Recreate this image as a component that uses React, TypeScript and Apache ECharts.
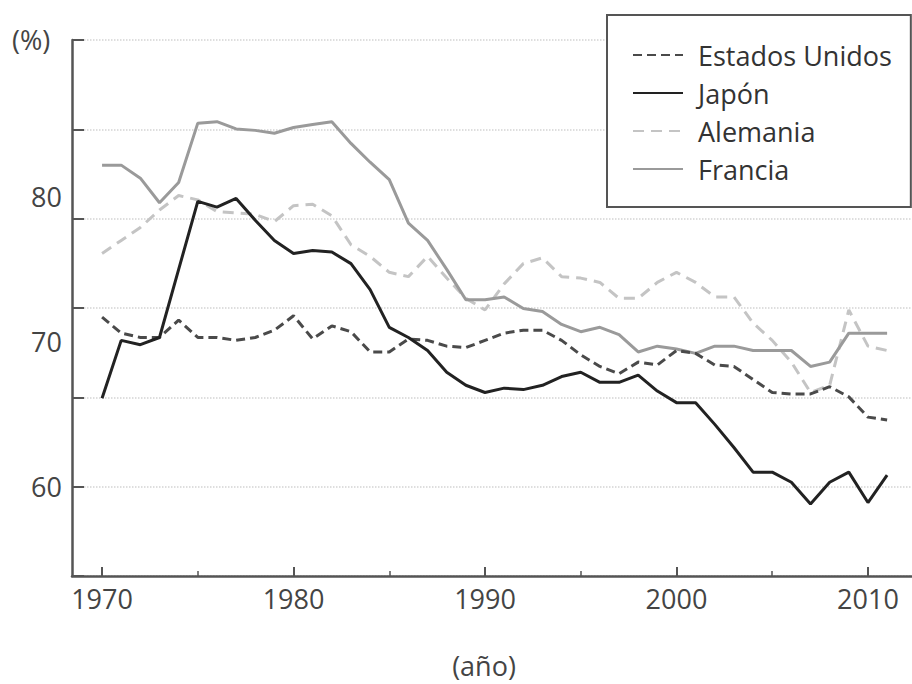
import React, { useEffect, useRef } from "react";
import * as echarts from "echarts";

const years = [
  1970, 1971, 1972, 1973, 1974, 1975, 1976, 1977, 1978, 1979,
  1980, 1981, 1982, 1983, 1984, 1985, 1986, 1987, 1988, 1989,
  1990, 1991, 1992, 1993, 1994, 1995, 1996, 1997, 1998, 1999,
  2000, 2001, 2002, 2003, 2004, 2005, 2006, 2007, 2008, 2009, 2010, 2011,
];

const estadosUnidos = [
  71.7, 70.6, 70.3, 70.3, 71.5, 70.3, 70.3, 70.1, 70.3, 70.8,
  71.8, 70.2, 71.1, 70.7, 69.3, 69.3, 70.2, 70.1, 69.7, 69.6,
  70.1, 70.6, 70.8, 70.8, 70.1, 69.1, 68.3, 67.8, 68.6, 68.4,
  69.4, 69.2, 68.4, 68.3, 67.4, 66.5, 66.4, 66.4, 66.9, 66.2, 64.8, 64.6,
];

const japon = [
  66.1, 70.1, 69.8, 70.3, 75.0, 79.7, 79.3, 79.9, 78.4, 77.0,
  76.1, 76.3, 76.2, 75.4, 73.6, 71.0, 70.3, 69.4, 67.9, 67.0,
  66.5, 66.8, 66.7, 67.0, 67.6, 67.9, 67.2, 67.2, 67.7, 66.6,
  65.8, 65.8, 64.3, 62.7, 61.0, 61.0, 60.3, 58.8, 60.3, 61.0, 58.9, 60.8,
];

const alemania = [
  76.1, 77.0, 77.9, 79.1, 80.1, 79.8, 79.0, 78.9, 78.8, 78.3,
  79.4, 79.5, 78.7, 76.7, 75.9, 74.8, 74.5, 75.9, 74.4, 73.0,
  72.2, 74.0, 75.4, 75.8, 74.5, 74.4, 74.1, 73.0, 73.0, 74.1,
  74.8, 74.1, 73.1, 73.1, 71.3, 70.1, 68.6, 66.5, 67.0, 72.2, 69.7, 69.4,
];

const francia = [
  82.2, 82.2, 81.3, 79.6, 81.0, 85.1, 85.2, 84.7, 84.6, 84.4,
  84.8, 85.0, 85.2, 83.7, 82.4, 81.2, 78.2, 77.0, 75.0, 72.9,
  72.9, 73.1, 72.3, 72.1, 71.2, 70.7, 71.0, 70.5, 69.3, 69.7,
  69.5, 69.2, 69.7, 69.7, 69.4, 69.4, 69.4, 68.3, 68.6, 70.6, 70.6, 70.6,
];

const yLabels = [60, 70, 80];
const xMajor = [1970, 1980, 1990, 2000, 2010];
const xMinor = [1975, 1985, 1995, 2005];

const FONT = "Open Sans";

export default function App() {
  const ref = useRef<HTMLDivElement>(null);

  useEffect(() => {
    if (!ref.current) return;
    const chart = echarts.init(ref.current, null, { renderer: "svg" });
    const pair = (arr: number[]) => years.map((y, i) => [y, arr[i]]);

    const mk = (name: string, arr: number[], color: string, type: any, width: number) => ({
      name,
      type: "line",
      data: pair(arr),
      symbol: "none",
      showSymbol: false,
      xAxisIndex: 0,
      yAxisIndex: 0,
      lineStyle: { color, type, width },
      itemStyle: { color },
      z: 3,
    });

    chart.setOption({
      animation: false,
      backgroundColor: "#ffffff",
      textStyle: { fontFamily: FONT },
      grid: { left: 72, right: 0, top: 40, bottom: 108, containLabel: false },
      xAxis: [
        {
          type: "value",
          min: 1968.43,
          max: 2012.3,
          position: "bottom",
          axisLine: { show: true, lineStyle: { color: "#555", width: 2.5 } },
          axisTick: { show: true, inside: true, length: 9, customValues: xMajor, lineStyle: { color: "#555", width: 2 } },
          axisLabel: {
            customValues: xMajor,
            margin: 9,
            fontSize: 27,
            color: "#444",
            fontFamily: FONT,
            formatter: (v: number) => String(Math.round(v)),
          },
          splitLine: { show: false },
        },
        {
          type: "value",
          min: 1968.43,
          max: 2012.3,
          position: "bottom",
          axisLine: { show: false },
          axisTick: { show: true, inside: true, length: 5, customValues: xMinor, lineStyle: { color: "#555", width: 1.5 } },
          axisLabel: { show: false },
          splitLine: { show: false },
        },
      ],
      yAxis: [
        {
          type: "value",
          min: 53.83,
          max: 90.84,
          position: "left",
          axisLine: { show: false },
          axisTick: { show: false },
          axisLabel: {
            customValues: yLabels,
            margin: 10,
            fontSize: 27,
            color: "#444",
            fontFamily: FONT,
            formatter: (v: number) => String(Math.round(v)),
          },
          splitLine: { show: false },
        },
        {
          type: "value",
          min: 0,
          max: 6,
          interval: 1,
          position: "left",
          axisLine: { show: true, lineStyle: { color: "#555", width: 2.5 } },
          axisTick: { show: true, inside: true, length: 12, lineStyle: { color: "#555", width: 2 } },
          axisLabel: { show: false },
          splitLine: { show: true, lineStyle: { color: "#d4d4d4", type: "dotted", width: 1.5 } },
        },
      ],
      legend: {
        orient: "vertical",
        left: 607,
        top: 15,
        padding: [26, 19, 24, 25],
        itemWidth: 50,
        itemHeight: 28,
        itemGap: 10,
        borderColor: "#555",
        borderWidth: 2,
        backgroundColor: "#ffffff",
        itemStyle: { opacity: 0 },
        textStyle: { fontSize: 27, color: "#333", fontFamily: FONT, lineHeight: 28, padding: [0, 0, 0, 10] },
        data: ["Estados Unidos", "Japón", "Alemania", "Francia"],
      },
      graphic: [
        {
          type: "text",
          left: 12,
          top: 26,
          style: { text: "(%)", font: `27px "${FONT}"`, fill: "#444" },
        },
        {
          type: "text",
          x: 484,
          y: 665,
          style: { text: "(año)", font: `27px "${FONT}"`, fill: "#444", align: "center", verticalAlign: "middle" },
        },
      ],
      series: [
        mk("Alemania", alemania, "#c4c4c4", [11, 7], 3),
        mk("Francia", francia, "#9a9a9a", "solid", 3),
        mk("Estados Unidos", estadosUnidos, "#4a4a4a", [9, 5], 3),
        mk("Japón", japon, "#222222", "solid", 3),
      ],
    });

    return () => chart.dispose();
  }, []);

  return (
    <div
      ref={ref}
      style={{ position: "fixed", left: 0, top: 0, width: 912, height: 684, background: "#fff" }}
    />
  );
}
